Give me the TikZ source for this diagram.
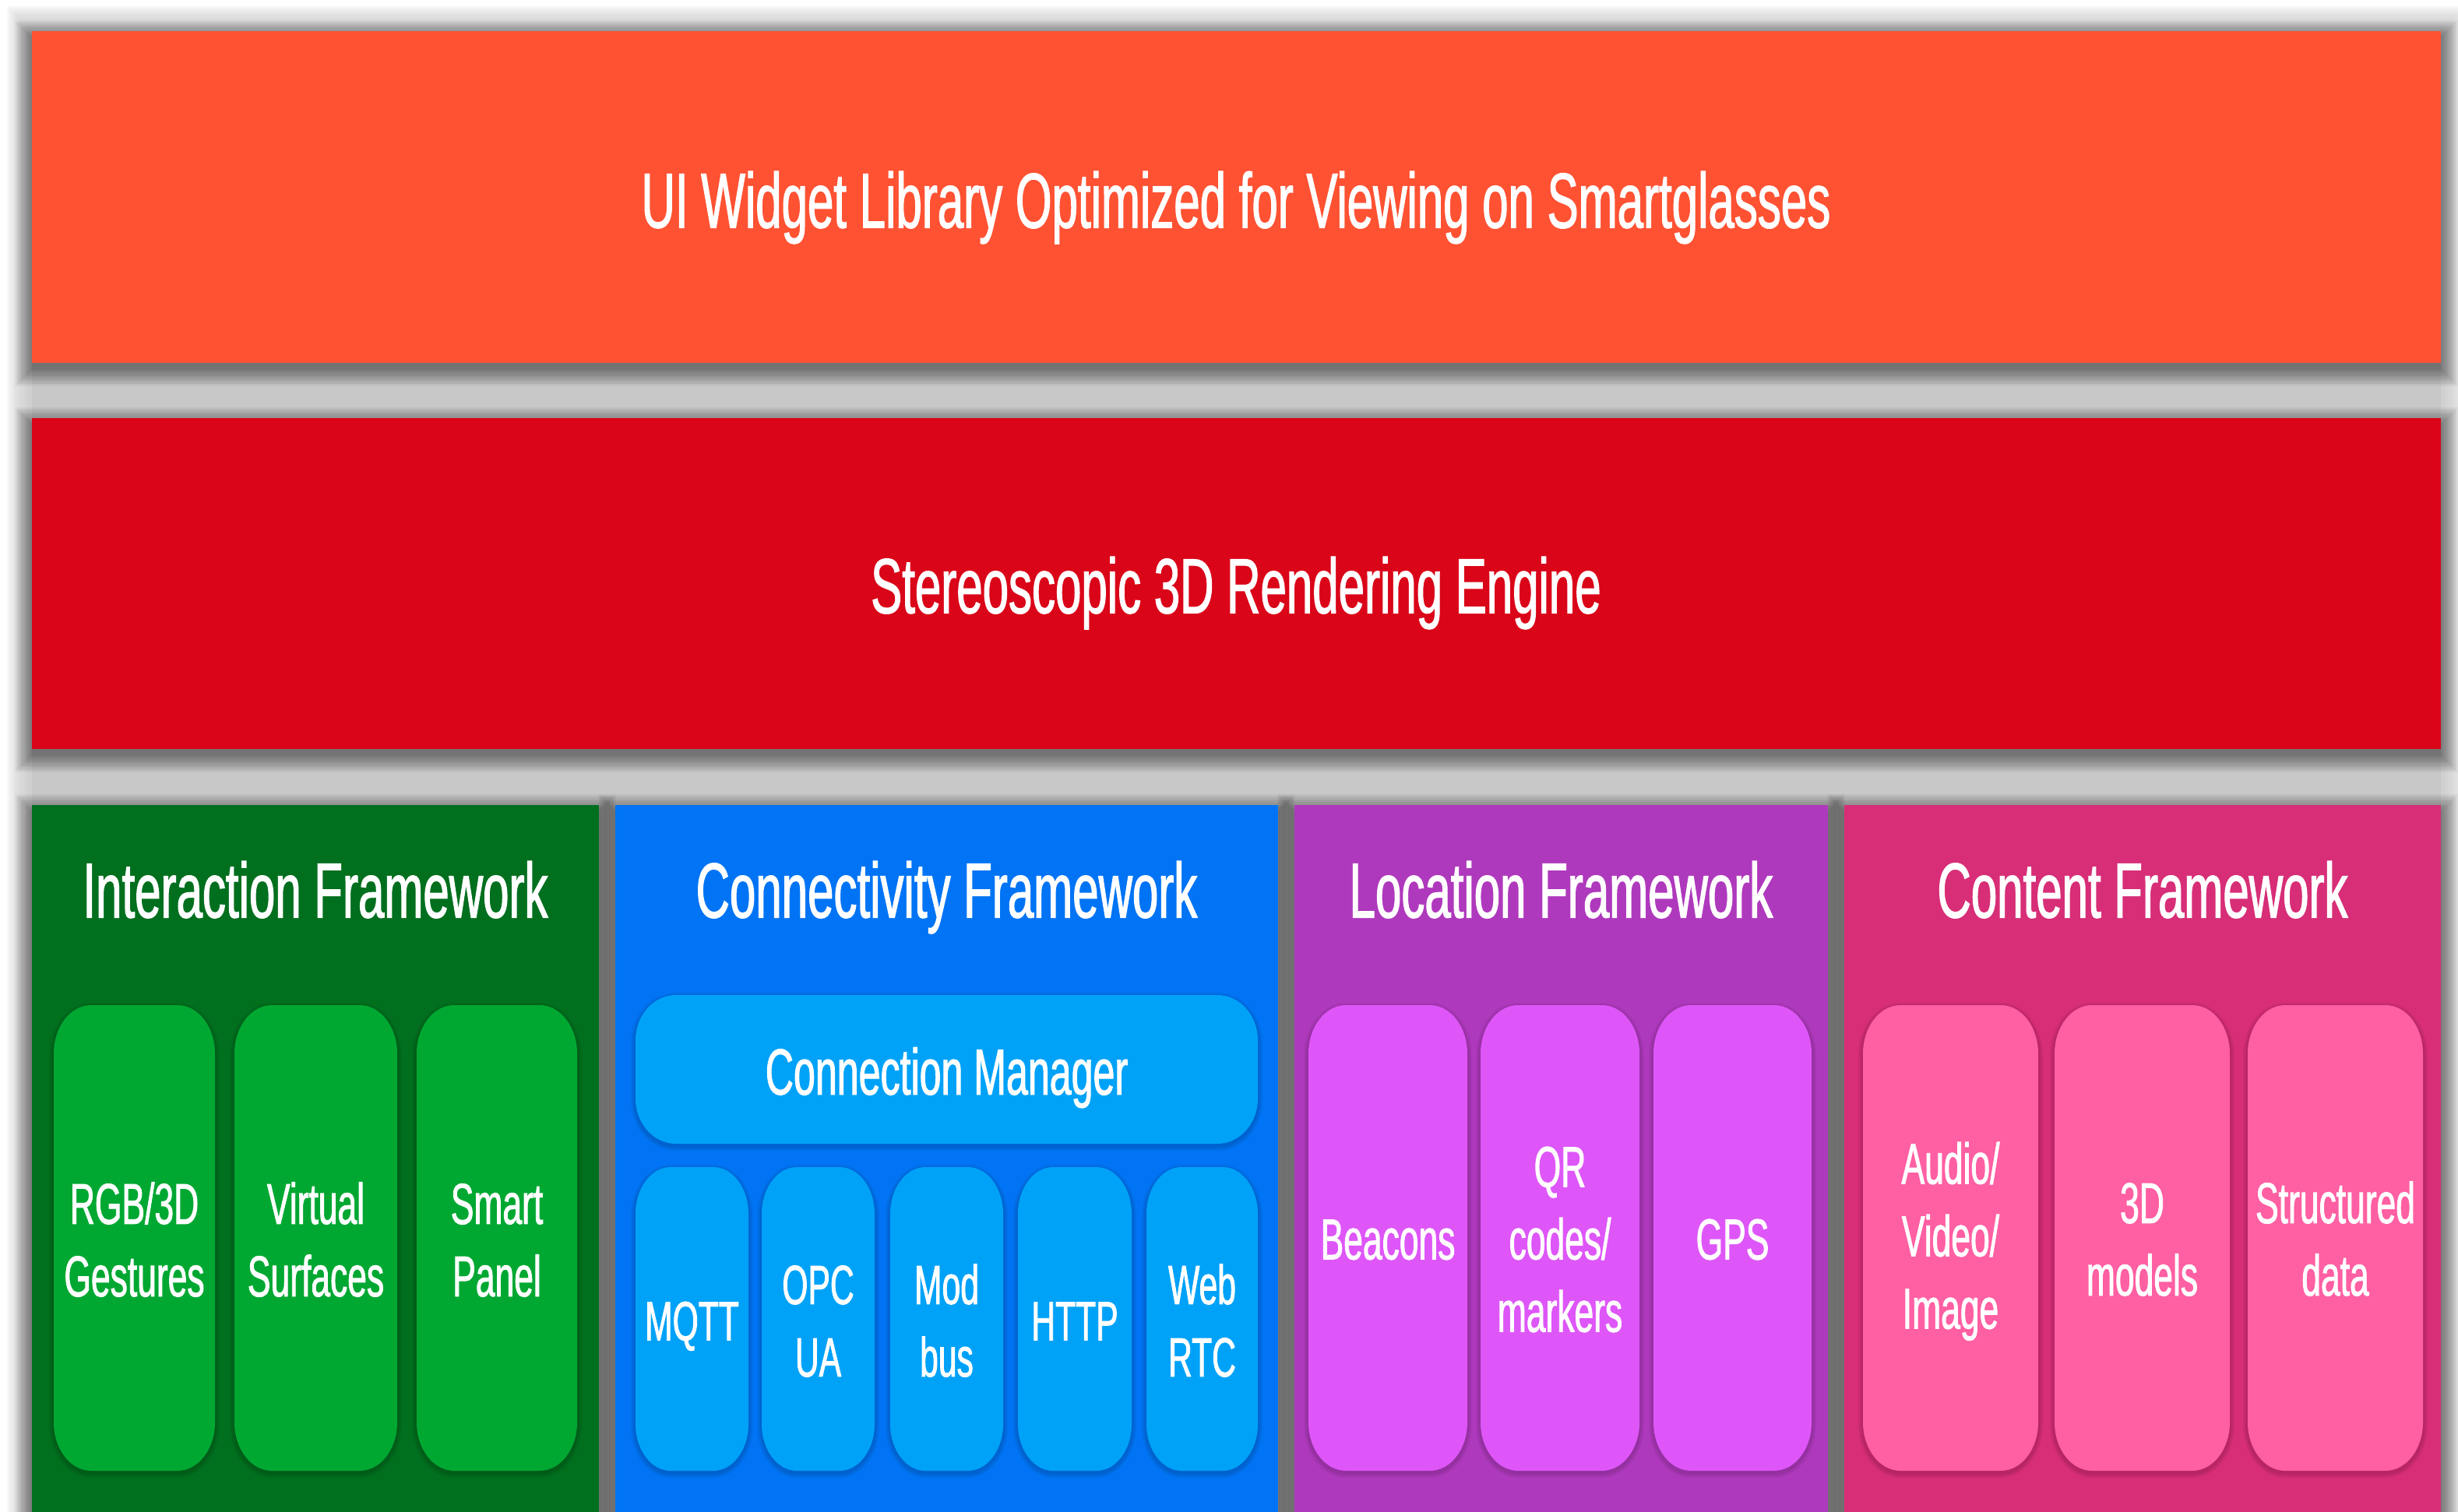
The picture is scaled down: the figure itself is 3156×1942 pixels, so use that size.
\documentclass[tikz,border=0pt]{standalone}
\usepackage{fontspec}
\setmainfont{Liberation Sans}[FakeStretch=0.6,FakeBold=1.2]
\definecolor{cOrange}{HTML}{FF5233}
\definecolor{cRed}{HTML}{DA0519}
\definecolor{cGreenP}{HTML}{006F1E}
\definecolor{cGreenI}{HTML}{00A832}
\definecolor{cBlueP}{HTML}{0074F4}
\definecolor{cBlueI}{HTML}{00A2F8}
\definecolor{cPurpP}{HTML}{AF39BD}
\definecolor{cPurpI}{HTML}{DE56F8}
\definecolor{cPinkP}{HTML}{D72E77}
\definecolor{cPinkI}{HTML}{FF5FA3}
\definecolor{cBg}{HTML}{C8C8C8}
% text block: each line gets cap height, no depth, so the node centre is the visual centre
\newcommand\txtlines[1]{\vbox{\baselineskip=26.46pt\lineskiplimit=-100pt\lineskip=0pt%
\halign{\hfil\vrule width 0pt height \fontcharht\font`\H depth 0pt\smash{##}\hfil\cr#1\crcr}}}
% rounded rectangle with elliptical corners: x1, ytop, x2, ybot (pixels, y downward), rx, ry, style
\newcommand\rrect[7]{%
\path[#7] ({#1+#5},{-(#4)}) -- ({#3-#5},{-(#4)})
 arc[start angle=-90,end angle=0,x radius={#5},y radius={#6}]
 -- ({#3},{-(#2)-#6})
 arc[start angle=0,end angle=90,x radius={#5},y radius={#6}]
 -- ({#1+#5},{-(#2)})
 arc[start angle=90,end angle=180,x radius={#5},y radius={#6}]
 -- ({#1},{-(#4)+#6})
 arc[start angle=180,end angle=270,x radius={#5},y radius={#6}]
 -- cycle;}
% inner box with soft shadow
\newcommand\ibox[7]{%
\foreach \k in {1,2,3}{\rrect{(#1-2*\k)}{(#2-2*\k+3)}{(#3+2*\k)}{(#4+2*\k+3)}{(#5+2*\k)}{(#6+2*\k)}{fill=black,fill opacity=.05}}%
\rrect{#1}{#2}{#3}{#4}{#5}{#6}{fill=#7}}
% soft drop shadow of a sharp box: x1, ytop, x2, ybot
\newcommand\bshadow[4]{%
\foreach \k in {0,...,13}{\fill[black,fill opacity=.035] ({#1-1.7*\k},{-(#2+8-1.7*\k)}) rectangle ({#3+1.7*\k},{-(#4+8+1.7*\k)});}}
\tikzset{
 ttl/.style={text=white,inner sep=0pt,font=\fontsize{28.45pt}{34pt}\selectfont},
 cmtxt/.style={text=white,inner sep=0pt,font=\fontsize{23.76pt}{28pt}\selectfont},
 itxt/.style={text=white,inner sep=0pt,font=\fontsize{21.05pt}{26.46pt}\selectfont},
 btxt/.style={text=white,inner sep=0pt,font=\fontsize{20.2pt}{26.46pt}\selectfont}
}
\begin{document}
\begin{tikzpicture}[x=0.01cm,y=0.01cm]
\useasboundingbox (0,0) rectangle (3156,-1942);
\clip (0,0) rectangle (3156,-1942);
\fill[white] (0,0) rectangle (3156,-1942);
% global grey backdrop with faded rim
\foreach \k in {1,...,14}{\fill[cBg,fill opacity=.11] ({41-2.3*\k},{-(40-2.3*\k)}) rectangle ({3134+2.3*\k},-1990);}
\fill[cBg] (41,-40) rectangle (3134,-1990);
% shadows of the big boxes
\bshadow{41}{40}{3134}{466}
\bshadow{41}{537}{3134}{962}
\bshadow{41}{1034}{769}{1990}
\bshadow{790}{1034}{1641}{1990}
\bshadow{1662}{1034}{2347}{1990}
\bshadow{2368}{1034}{3134}{1990}
% big boxes
\fill[cOrange] (41,-40) rectangle (3134,-466);
\fill[cRed] (41,-537) rectangle (3134,-962);
\fill[cGreenP] (41,-1034) rectangle (769,-1990);
\fill[cBlueP] (790,-1034) rectangle (1641,-1990);
\fill[cPurpP] (1662,-1034) rectangle (2347,-1990);
\fill[cPinkP] (2368,-1034) rectangle (3134,-1990);
% inner boxes: interaction
\ibox{69}{1291}{276}{1889}{48}{62}{cGreenI}
\ibox{301}{1291}{510}{1889}{48}{62}{cGreenI}
\ibox{535}{1291}{741}{1889}{48}{62}{cGreenI}
% connectivity
\ibox{816}{1278}{1615}{1469}{52}{58}{cBlueI}
\ibox{816}{1499}{961}{1889}{45}{60}{cBlueI}
\ibox{978}{1499}{1123}{1889}{45}{60}{cBlueI}
\ibox{1143}{1499}{1288}{1889}{45}{60}{cBlueI}
\ibox{1307}{1499}{1453}{1889}{45}{60}{cBlueI}
\ibox{1472}{1499}{1615}{1889}{45}{60}{cBlueI}
% location
\ibox{1680}{1291}{1884}{1889}{48}{62}{cPurpI}
\ibox{1901}{1291}{2105}{1889}{48}{62}{cPurpI}
\ibox{2123}{1291}{2326}{1889}{48}{62}{cPurpI}
% content
\ibox{2392}{1291}{2617}{1889}{48}{62}{cPinkI}
\ibox{2638}{1291}{2863}{1889}{48}{62}{cPinkI}
\ibox{2886}{1291}{3111}{1889}{48}{62}{cPinkI}
% texts
\node[ttl] (ui) at (1587,-258) {\txtlines{UI Widget Library Optimized for Viewing on Smartglasses}};
\node[ttl] (render) at (1587,-753) {\txtlines{Stereoscopic 3D Rendering Engine}};
\node[ttl] (tint) at (405,-1144) {\txtlines{Interaction Framework}};
\node[ttl] (tcon) at (1215.5,-1144) {\txtlines{Connectivity Framework}};
\node[ttl] (tloc) at (2004.5,-1144) {\txtlines{Location Framework}};
\node[ttl] (tcnt) at (2751,-1144) {\txtlines{Content Framework}};
\node[itxt] (gest) at (172.5,-1593) {\txtlines{RGB/3D\cr Gestures}};
\node[itxt] (virt) at (405.5,-1593) {\txtlines{Virtual\cr Surfaces}};
\node[itxt] (panel) at (638,-1593) {\txtlines{Smart\cr Panel}};
\node[cmtxt] (cm) at (1215.5,-1377) {\txtlines{Connection Manager}};
\node[btxt] (mqtt) at (888.5,-1697) {\txtlines{MQTT}};
\node[btxt] (opc) at (1050.5,-1697) {\txtlines{OPC\cr UA}};
\node[btxt] (modbus) at (1215.5,-1697) {\txtlines{Mod\cr bus}};
\node[btxt] (http) at (1380,-1697) {\txtlines{HTTP}};
\node[btxt] (webrtc) at (1543.5,-1697) {\txtlines{Web\cr RTC}};
\node[itxt] (beac) at (1782,-1592) {\txtlines{Beacons}};
\node[itxt] (qr) at (2003,-1592) {\txtlines{QR\cr codes/\cr markers}};
\node[itxt] (gps) at (2224.5,-1592) {\txtlines{GPS}};
\node[itxt] (av) at (2504.5,-1588) {\txtlines{Audio/\cr Video/\cr Image}};
\node[itxt] (models) at (2750.5,-1592) {\txtlines{3D\cr models}};
\node[itxt] (sdata) at (2998.5,-1592) {\txtlines{Structured\cr data}};
\end{tikzpicture}
\end{document}
